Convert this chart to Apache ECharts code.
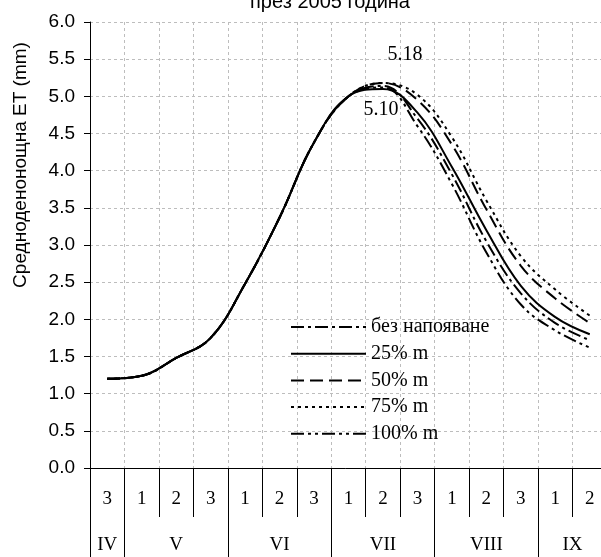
<!DOCTYPE html>
<html><head><meta charset="utf-8">
<script src="https://cdn.jsdelivr.net/npm/echarts@6/dist/echarts.min.js"></script>
<style>html,body{margin:0;padding:0;background:#fff}#c{width:601px;height:557px}</style>
</head><body><div id="c"></div>
<script>
// ---- data ----
const decadeLabels = ['3','1','2','3','1','2','3','1','2','3','1','2','3','1','2'];
const monthLabels = ['IV','V','VI','VII','VIII','IX'];
const monthStarts = [0, 1, 4, 7, 10, 13];
const monthEnds   = [1, 4, 7, 10, 13, 15];
const seriesNames = ['без напояване', '25% m', '50% m', '75% m', '100% m'];
const noIrrigation = [1.20, 1.24, 1.48, 1.75, 2.48, 3.37, 4.38, 5.00, 5.14, 4.70, 3.95, 3.05, 2.35, 1.95, 1.72];
const m25  = [1.20, 1.24, 1.48, 1.75, 2.48, 3.37, 4.38, 5.00, 5.10, 4.78, 4.05, 3.20, 2.45, 2.03, 1.80];
const m50  = [1.20, 1.24, 1.48, 1.75, 2.48, 3.37, 4.38, 5.00, 5.18, 4.95, 4.35, 3.48, 2.72, 2.28, 1.95];
const m75  = [1.20, 1.24, 1.48, 1.75, 2.48, 3.37, 4.38, 5.00, 5.18, 5.02, 4.45, 3.60, 2.85, 2.40, 2.05];
const m100 = [1.20, 1.24, 1.48, 1.75, 2.48, 3.37, 4.38, 5.00, 5.12, 4.60, 3.82, 2.90, 2.20, 1.85, 1.62];
const maxLabel = {series: 2, index: 8};
const minLabel = {series: 1, index: 8};
const title = 'през 2005 година';
const yName = 'Средноденонощна ЕТ (mm)';

// ---- styles ----
const serif = 'Liberation Serif';
const sans = 'Liberation Sans';
const dashes = [[13,4,3,4], 'solid', [13,6], [3,4], [13,4,3,4,3,4]];
const allData = [noIrrigation, m25, m50, m75, m100];

const chart = echarts.init(document.getElementById('c'), null, {renderer: 'canvas'});

const labelStyle = {fontFamily: serif, fontSize: 20, color: '#000', formatter: p => p.value.toFixed(2)};

const series = allData.map((arr, si) => ({
  name: seriesNames[si],
  type: 'line',
  xAxisIndex: 0,
  smooth: 0.4,
  symbol: 'circle',
  symbolSize: 0,
  showSymbol: true,
  lineStyle: {color: '#000', width: 2, type: dashes[si]},
  itemStyle: {color: '#000'},
  z: 10 - si,
  data: arr.map((v, i) => {
    if (si === maxLabel.series && i === maxLabel.index) {
      return {value: v, label: Object.assign({show: true, position: 'top', offset: [22, -13]}, labelStyle)};
    }
    if (si === minLabel.series && i === minLabel.index) {
      return {value: v, label: Object.assign({show: true, position: 'bottom', offset: [-2, 6]}, labelStyle)};
    }
    return v;
  })
}));

const monthCenters = monthStarts.map((s, i) => (s + monthEnds[i]) / 2);

chart.setOption({
  animation: false,
  backgroundColor: '#fff',
  grid: {left: 90, width: 517, top: 22, bottom: 89, containLabel: false, outerBoundsMode: 'none'},
  graphic: [
    {type: 'text', x: 330, y: 12, style: {text: title, font: '20px ' + sans, fill: '#000', textAlign: 'center', textVerticalAlign: 'bottom'}},
    {type: 'text', x: 21, y: 165, rotation: Math.PI / 2, style: {text: yName, font: '19px ' + sans, fill: '#000', textAlign: 'center', textVerticalAlign: 'middle'}}
  ],
  legend: {
    orient: 'vertical', left: 290, top: 317, padding: 0, itemWidth: 75, itemHeight: 14, itemGap: 6.7,
    data: seriesNames,
    itemStyle: {opacity: 0},
    textStyle: {fontFamily: serif, fontSize: 20, color: '#000', lineHeight: 20}
  },
  xAxis: [
    {
      type: 'category', data: decadeLabels, boundaryGap: true, position: 'bottom',
      axisLine: {show: true, lineStyle: {color: '#000', width: 1}},
      axisTick: {show: true, length: 49, lineStyle: {color: '#000', width: 1}},
      axisLabel: {margin: 22, fontFamily: serif, fontSize: 19, color: '#000', interval: 0},
      splitLine: {show: true, lineStyle: {color: '#bdbdbd', type: [3, 3], width: 1}}
    },
    {
      type: 'value', min: 0, max: 15, position: 'bottom',
      axisLine: {show: false},
      axisTick: {show: true, customValues: monthStarts, length: 89, lineStyle: {color: '#000', width: 1}},
      axisLabel: {customValues: monthCenters, margin: 68, fontFamily: serif, fontSize: 19, color: '#000',
        formatter: v => monthLabels[monthCenters.indexOf(v)] || ''},
      splitLine: {show: false}
    }
  ],
  yAxis: {
    type: 'value', min: 0, max: 6, interval: 0.5,
    axisLine: {show: true, lineStyle: {color: '#000', width: 1}},
    axisTick: {show: true, length: 6, lineStyle: {color: '#000'}},
    axisLabel: {margin: 15, fontFamily: sans, fontSize: 19, color: '#000', formatter: v => v.toFixed(1)},
    splitLine: {show: true, lineStyle: {color: '#bdbdbd', type: [3, 3], width: 1}}
  },
  series: series
});
</script>
</body></html>
